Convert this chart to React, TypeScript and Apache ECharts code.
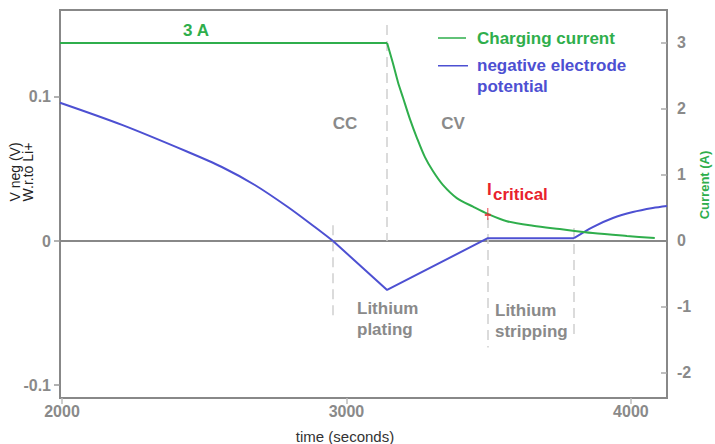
import React, { useEffect, useRef } from "react";
import * as echarts from "echarts";

// ---- data ----
const timeTicks = [2000, 3000, 4000];
const voltageTicks = [-0.1, 0, 0.1];
const currentTicks = [-2, -1, 0, 1, 2, 3];

// charging current (A): constant 3 A (CC), then decay (CV)
const currentTime = [1993, 3143, 3163, 3181, 3199, 3223, 3248, 3276, 3304, 3339, 3388, 3445, 3497, 3564, 3656, 3750, 3866, 3986, 4084];
const currentValue = [3.0, 3.0, 2.7, 2.41, 2.17, 1.85, 1.56, 1.27, 1.06, 0.85, 0.65, 0.52, 0.41, 0.3, 0.23, 0.18, 0.12, 0.076, 0.045];
const currentKnee = 1; // index where the CC plateau ends

// negative electrode potential (V)
const potentialTime = [1993, 2211, 2443, 2562, 2678, 2794, 2889, 2953, 3143, 3497, 3800, 3866, 3937, 4007, 4077, 4127];
const potentialValue = [0.096, 0.0806, 0.0618, 0.0514, 0.0389, 0.0236, 0.0097, 0, -0.034, 0.002, 0.002, 0.0097, 0.016, 0.0201, 0.0229, 0.0243];
const potentialLinearStart = 7; // zero crossing -> straight segments
const potentialLinearEnd = 10; // end of stripping plateau

const criticalTime = [3497];
const criticalCurrent = [0.41];

const guideTime = [2953, 3143, 3497, 3800];
const guideTop = [0.011, 0.15, 0.016, 0.009];
const guideBottom = [-0.055, 0.0, -0.074, -0.065];

const GREEN = "#2fae4c";
const BLUE = "#4d50d2";
const GRAY_TEXT = "#8a8a8a";
const RED = "#e8222c";
const FONT = "'Liberation Sans', Arial, sans-serif";

const greenIcon =
  "path://M0,0 L0.05,0 L0.05,0.05 L0,0.05 Z M0,9.75 L28,9.75 L28,11.25 L0,11.25 Z M33.95,20.95 L34,20.95 L34,21 L33.95,21 Z";
const blueIcon =
  "path://M0,0 L30,0 L30,1.5 L0,1.5 Z M33.95,20.95 L34,20.95 L34,21 L33.95,21 Z";

export default function App() {
  const ref = useRef<HTMLDivElement>(null);

  useEffect(() => {
    if (!ref.current) return;
    const chart = echarts.init(ref.current, null, { renderer: "svg" });

    const currentData = currentTime.map((t, i) => [t, currentValue[i]]);
    const potentialData = potentialTime.map((t, i) => [t, potentialValue[i]]);
    const criticalData = criticalTime.map((t, i) => [t, criticalCurrent[i]]);

    const guideLines = guideTime.map((t, i) => [
      { coord: [t, guideTop[i]] },
      { coord: [t, guideBottom[i]] },
    ]);

    const blueBase = {
      name: "negative electrode potential",
      type: "line",
      yAxisIndex: 0,
      symbol: "none",
      lineStyle: { color: BLUE, width: 2 },
      itemStyle: { color: BLUE },
      z: 3,
    };
    const greenBase = {
      name: "Charging current",
      type: "line",
      yAxisIndex: 1,
      symbol: "none",
      lineStyle: { color: GREEN, width: 2 },
      itemStyle: { color: GREEN },
      z: 4,
    };

    const option: any = {
      animation: false,
      backgroundColor: "#fff",
      textStyle: { fontFamily: FONT },
      grid: {
        left: 60,
        top: 10,
        width: 607,
        height: 388,
        show: true,
        borderColor: "#888",
        borderWidth: 2,
        containLabel: false,
        outerBoundsMode: "none",
      },
      legend: {
        left: 433,
        top: 22.5,
        orient: "vertical",
        itemGap: 6,
        itemWidth: 34,
        itemHeight: 21,
        selectedMode: false,
        itemStyle: { borderWidth: 0 },
        textStyle: { fontSize: 17, fontWeight: "bold", lineHeight: 21, fontFamily: FONT },
        formatter: (name: string) =>
          name === "negative electrode potential" ? "negative electrode\npotential" : name,
        data: [
          { name: "Charging current", icon: greenIcon, textStyle: { color: GREEN } },
          { name: "negative electrode potential", icon: blueIcon, textStyle: { color: BLUE } },
        ],
      },
      xAxis: {
        type: "value",
        min: 1993,
        max: 4127,
        name: "time (seconds)",
        nameLocation: "middle",
        nameGap: 31,
        nameTextStyle: { color: "#333", fontSize: 15, fontFamily: FONT, padding: [0, 37, 0, 0] },
        splitLine: { show: false },
        axisLine: { show: true, onZero: false, lineStyle: { color: "#888", width: 2 } },
        axisTick: { show: true, customValues: timeTicks, length: 6, lineStyle: { color: "#bbb", width: 1.5 } },
        axisLabel: {
          customValues: timeTicks,
          formatter: (v: number) => String(v),
          color: GRAY_TEXT,
          fontWeight: "bold",
          fontSize: 16,
          margin: 5,
          fontFamily: FONT,
        },
      },
      yAxis: [
        {
          type: "value",
          position: "left",
          min: -0.109,
          max: 0.1604,
          splitLine: { show: false },
          axisLine: { show: true, onZero: false, lineStyle: { color: "#888", width: 2 } },
          axisTick: { show: true, customValues: voltageTicks, length: 6, lineStyle: { color: "#999", width: 1.5 } },
          axisLabel: {
            customValues: voltageTicks,
            formatter: (v: number) => String(v),
            color: GRAY_TEXT,
            fontWeight: "bold",
            fontSize: 16,
            margin: 9,
            fontFamily: FONT,
          },
        },
        {
          type: "value",
          position: "right",
          min: -2.379,
          max: 3.5,
          splitLine: { show: false },
          axisLine: { show: false, onZero: false },
          axisTick: {
            show: true,
            inside: true,
            customValues: currentTicks,
            length: 6,
            lineStyle: { color: "#aaa", width: 1.5 },
          },
          axisLabel: {
            customValues: currentTicks,
            color: GRAY_TEXT,
            fontWeight: "bold",
            fontSize: 16,
            margin: 10,
            fontFamily: FONT,
          },
        },
      ],
      series: [
        {
          ...blueBase,
          data: potentialData.slice(0, potentialLinearStart + 1),
          smooth: 0.3,
          markLine: {
            silent: true,
            symbol: ["none", "none"],
            label: { show: false },
            z: 1,
            data: [
              { yAxis: 0, lineStyle: { color: "#888", width: 2, type: "solid" } },
              ...guideLines.map((pair) => [
                { ...pair[0], lineStyle: { color: "#d0d0d0", width: 1.5, type: [10, 6] } },
                pair[1],
              ]),
            ],
          },
        },
        {
          ...blueBase,
          data: potentialData.slice(potentialLinearStart, potentialLinearEnd + 1),
          smooth: false,
        },
        {
          ...blueBase,
          data: potentialData.slice(potentialLinearEnd),
          smooth: 0.3,
        },
        {
          ...greenBase,
          data: currentData.slice(0, currentKnee + 1),
          smooth: false,
        },
        {
          ...greenBase,
          data: currentData.slice(currentKnee),
          smooth: 0.3,
        },
        {
          name: "I critical",
          type: "scatter",
          yAxisIndex: 1,
          data: criticalData,
          symbol: "path://M5,0 L5,12 M2,7 L8,7",
          symbolSize: [6, 12],
          itemStyle: { color: "transparent", borderColor: RED, borderWidth: 1.5 },
          z: 5,
        },
      ],
      graphic: [
        {
          type: "text",
          x: 196,
          y: 30,
          style: { text: "3 A", fill: GREEN, font: `bold 17px ${FONT}`, align: "center", verticalAlign: "middle" },
        },
        {
          type: "text",
          x: 345,
          y: 123,
          style: { text: "CC", fill: GRAY_TEXT, font: `bold 17px ${FONT}`, align: "center", verticalAlign: "middle" },
        },
        {
          type: "text",
          x: 453,
          y: 123,
          style: { text: "CV", fill: GRAY_TEXT, font: `bold 17px ${FONT}`, align: "center", verticalAlign: "middle" },
        },
        {
          type: "text",
          x: 487,
          y: 181,
          style: { text: "I", fill: RED, font: `bold 17px ${FONT}`, align: "left", verticalAlign: "top" },
        },
        {
          type: "text",
          x: 493,
          y: 186,
          style: { text: "critical", fill: RED, font: `bold 17px ${FONT}`, align: "left", verticalAlign: "top" },
        },
        {
          type: "text",
          x: 357,
          y: 298,
          style: {
            text: "Lithium\nplating",
            fill: GRAY_TEXT,
            font: `bold 17px ${FONT}`,
            lineHeight: 21,
            align: "left",
            verticalAlign: "top",
          },
        },
        {
          type: "text",
          x: 495,
          y: 300,
          style: {
            text: "Lithium\nstripping",
            fill: GRAY_TEXT,
            font: `bold 17px ${FONT}`,
            lineHeight: 21,
            align: "left",
            verticalAlign: "top",
          },
        },
        {
          type: "text",
          x: 21,
          y: 172,
          rotation: Math.PI / 2,
          style: {
            text: "V neg (V)\nW.r.to Li+",
            fill: "#222",
            font: `14px ${FONT}`,
            lineHeight: 13,
            align: "center",
            verticalAlign: "middle",
          },
        },
        {
          type: "text",
          x: 704,
          y: 185,
          rotation: Math.PI / 2,
          style: {
            text: "Current (A)",
            fill: GREEN,
            font: `bold 13px ${FONT}`,
            align: "center",
            verticalAlign: "middle",
          },
        },
      ],
    };

    chart.setOption(option);
    return () => chart.dispose();
  }, []);

  return (
    <div
      ref={ref}
      style={{ position: "absolute", left: 0, top: 0, width: 715, height: 444, background: "#fff" }}
    />
  );
}
